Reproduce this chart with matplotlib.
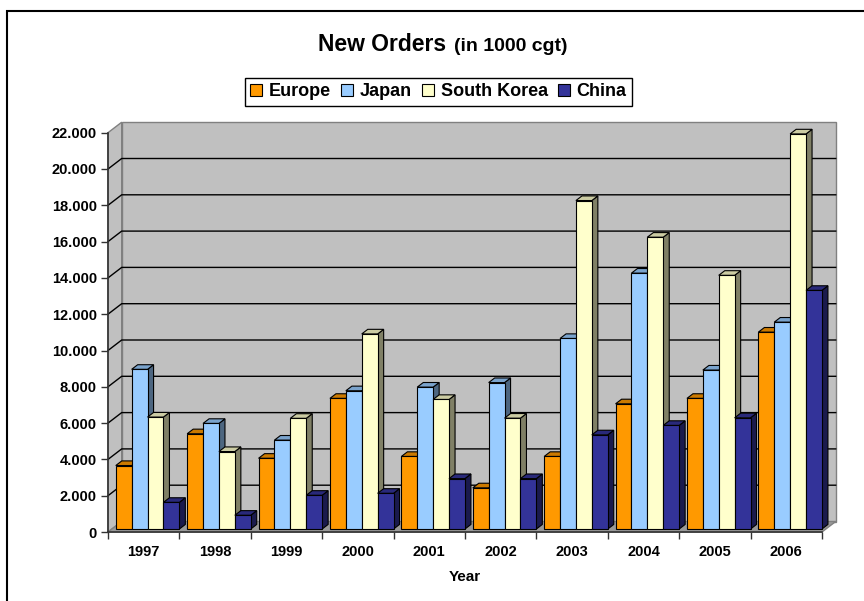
import numpy as np
import matplotlib.pyplot as plt
from matplotlib.patches import Polygon, Rectangle, Patch

plt.rcParams['font.family'] = ['Liberation Sans', 'DejaVu Sans']
plt.rcParams['font.weight'] = 'bold'

# New orders per region, in 1000 cgt
years = ['1997', '1998', '1999', '2000', '2001', '2002', '2003', '2004', '2005', '2006']
europe = [3500, 5250, 3900, 7200, 4000, 2270, 4000, 6900, 7200, 10850]
japan = [8800, 5820, 4900, 7620, 7820, 8070, 10500, 14100, 8760, 11400]
south_korea = [6170, 4270, 6100, 10750, 7140, 6110, 18100, 16080, 13980, 21770]
china = [1470, 760, 1860, 1970, 2780, 2780, 5190, 5710, 6130, 13150]

series_names = ['Europe', 'Japan', 'South Korea', 'China']
series_colors = ['#FF9900', '#99CCFF', '#FFFFCC', '#333399']
y_ticks = list(range(0, 22001, 2000))

W, H = 864, 601
fig = plt.figure(figsize=(W / 100, H / 100), dpi=100)

# front face of the plot cube, in pixels
px_left, px_right, px_bottom, px_top = 108, 822, 532, 132.7
ax = fig.add_axes([px_left / W, 1 - px_bottom / H,
                   (px_right - px_left) / W, (px_bottom - px_top) / H])
ax.set_xlim(0, len(years))
ax.set_ylim(0, 22000)
ax.patch.set_visible(False)

# oblique depth offset of the back wall, in data units
depth_dx = 13.7 / ((px_right - px_left) / len(years))
depth_dy = 10.5 / ((px_bottom - px_top) / 22000)


def proj(x, v, z):
    return (x + z * depth_dx, v + z * depth_dy)


def face(pts, fc, ec='#808080', lw=1.0, z=0):
    ax.add_patch(Polygon(pts, closed=True, facecolor=fc, edgecolor=ec,
                         linewidth=lw, clip_on=False, zorder=z))


n = len(years)
top = 22000
# walls and floor
face([proj(0, 0, 1), proj(n, 0, 1), proj(n, top, 1), proj(0, top, 1)], '#C0C0C0', z=0.1)
face([proj(0, 0, 0), proj(0, 0, 1), proj(0, top, 1), proj(0, top, 0)], '#C0C0C0', z=0.2)
face([proj(0, 0, 0), proj(n, 0, 0), proj(n, 0, 1), proj(0, 0, 1)], '#999999', z=0.3)

# gridlines on side and back wall
for v in y_ticks[1:-1]:
    pts = np.array([proj(0, v, 0), proj(0, v, 1), proj(n, v, 1)])
    ax.plot(pts[:, 0], pts[:, 1], color='black', lw=1.0, clip_on=False, zorder=0.5)


def shade(c, f):
    c = np.array(plt.matplotlib.colors.to_rgb(c))
    return tuple(c * f)


# 3d columns
z0, z1 = 0.28, 0.72
gap = 0.055
bw = (1 - 2 * gap) / 4
data = [europe, japan, south_korea, china]
order = 1
for k in range(n):
    for j, vals in enumerate(data):
        v = vals[k]
        c = series_colors[j]
        x0 = k + gap + j * bw
        x1 = x0 + bw
        side = [proj(x1, 0, z0), proj(x1, 0, z1), proj(x1, v, z1), proj(x1, v, z0)]
        lid = [proj(x0, v, z0), proj(x1, v, z0), proj(x1, v, z1), proj(x0, v, z1)]
        front = [proj(x0, 0, z0), proj(x1, 0, z0), proj(x1, v, z0), proj(x0, v, z0)]
        face(side, shade(c, 0.5), ec='black', lw=0.8, z=1 + order * 0.001)
        face(lid, shade(c, 0.8), ec='black', lw=0.8, z=1 + order * 0.001)
        face(front, c, ec='black', lw=0.8, z=1 + order * 0.001)
        order += 1

# axes lines and ticks
for s in ['top', 'right']:
    ax.spines[s].set_visible(False)
for s in ['left', 'bottom']:
    ax.spines[s].set_color('#333333')
    ax.spines[s].set_linewidth(1.2)
    ax.spines[s].set_zorder(3)

ax.set_yticks(y_ticks)
ax.set_yticklabels(['0' if v == 0 else f'{v:,}'.replace(',', '.') for v in y_ticks])
ax.tick_params(axis='y', direction='out', length=5, width=1, color='#333333',
               pad=3, labelsize=10.5)
ax.set_xticks(range(n + 1))
ax.set_xticklabels([])
ax.set_xticks(np.arange(n) + 0.5, minor=True)
ax.set_xticklabels(years, minor=True)
ax.tick_params(axis='x', which='major', direction='out', length=5, width=1, color='#333333')
ax.tick_params(axis='x', which='minor', length=0, pad=9.5, labelsize=10.5)
ax.set_xlabel('Year', fontsize=11, fontweight='bold', labelpad=8)

# title
fig.text(318 / W, 1 - 51 / H, 'New Orders', fontsize=16.5, fontweight='bold',
         ha='left', va='baseline')
fig.text(568 / W, 1 - 51 / H, '(in 1000 cgt)', fontsize=14, fontweight='bold',
         ha='right', va='baseline')

# legend
handles = [Patch(facecolor=c, edgecolor='black', linewidth=0.8) for c in series_colors]
leg = fig.legend(handles, series_names, ncol=4, loc='center',
                 bbox_to_anchor=(438.5 / W, 1 - 92 / H), fontsize=13,
                 frameon=True, fancybox=False, edgecolor='black', framealpha=1,
                 handlelength=0.65, handleheight=0.65, handletextpad=0.35,
                 columnspacing=0.6, borderpad=0.3, borderaxespad=0)
leg.get_frame().set_linewidth(1.0)

# chart frame
fig.add_artist(Rectangle((7 / W, -0.1), 1.2, 1 - 11 / H + 0.1, transform=fig.transFigure,
                         fill=False, edgecolor='black', linewidth=1.5))

fig.savefig('out.png', dpi=100)
